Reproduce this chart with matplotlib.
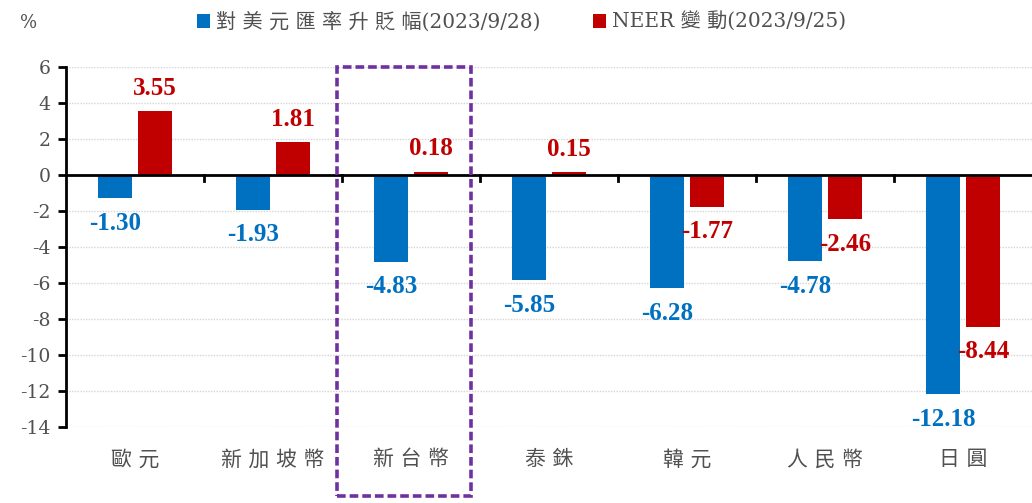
import numpy as np
import matplotlib.pyplot as plt
from matplotlib.patches import Rectangle

categories = ['歐元', '新加坡幣', '新台幣', '泰銖', '韓元', '人民幣', '日圓']
fx_change = [-1.30, -1.93, -4.83, -5.85, -6.28, -4.78, -12.18]
neer_change = [3.55, 1.81, 0.18, 0.15, -1.77, -2.46, -8.44]
series_names = ['對美元匯率升貶幅(2023/9/28)', 'NEER 變動(2023/9/25)']
yticks = [6, 4, 2, 0, -2, -4, -6, -8, -10, -12, -14]

blue = '#0070C0'
red = '#C00000'
purple = '#7030A0'
gray = '#505050'
mixed = ['DejaVu Serif', 'Noto Sans CJK TC']
num_font = 'Liberation Serif'


def spaced(s):
    # put a space between CJK characters, like the wide spacing of the original
    out = ''
    for i, ch in enumerate(s):
        out += ch
        if i + 1 < len(s) and ord(ch) > 0x2E80 and ord(s[i + 1]) > 0x2E80:
            out += ' '
    return out


fig = plt.figure(figsize=(10.32, 5.03), dpi=100)
ax = fig.add_axes([0.064, 0.151, 0.936, 0.716])

x = np.arange(len(categories))
w = 0.24
off = 0.145
b1 = ax.bar(x - off, fx_change, w, color=blue, zorder=3)
b2 = ax.bar(x + off, neer_change, w, color=red, zorder=3)

for xi, v in zip(x - off, fx_change):
    ax.annotate(f'{v:.2f}', (xi, v), xytext=(0, -25), textcoords='offset pixels',
                ha='center', va='center', color=blue, fontsize=18, fontweight='bold',
                family=num_font)
for xi, v in zip(x + off, neer_change):
    dy = 23 if v >= 0 else -25
    ax.annotate(f'{v:.2f}', (xi, v), xytext=(0, dy), textcoords='offset pixels',
                ha='center', va='center', color=red, fontsize=18, fontweight='bold',
                family=num_font)

ax.set_xlim(-0.5, len(categories) - 0.5)
ax.set_ylim(-14, 6)
ax.set_yticks(yticks)
ax.set_yticklabels([str(t) for t in yticks], family='DejaVu Serif', fontsize=13.5, color=gray)
ax.yaxis.grid(True, color='#D5D5D5', linestyle=(0, (1, 1)), linewidth=1)
ax.set_axisbelow(True)

for s in ['top', 'right', 'bottom']:
    ax.spines[s].set_visible(False)
ax.spines['left'].set_linewidth(2)
ax.axhline(0, color='black', linewidth=2, zorder=4)
ax.tick_params(axis='y', direction='out', length=6, width=2, pad=5)

ax.set_xticks(x)
ax.set_xticklabels([])
ax.tick_params(axis='x', length=0)
for xi in np.arange(0.5, len(categories) - 0.5, 1):
    ax.plot([xi, xi], [0, -0.35], color='black', linewidth=2, zorder=4, clip_on=False)
for xi, c in zip(x, categories):
    ax.text(xi, -15.8, spaced(c), ha='center', va='center',
            fontsize=15, color=gray, family=['DejaVu Sans', 'Noto Sans CJK TC'])

rect = Rectangle((1.46, -17.85), 0.975, 23.85, fill=False, edgecolor=purple,
                 linewidth=2.6, linestyle=(0, (2.4, 1.1)), zorder=5, clip_on=False)
ax.add_patch(rect)

fig.text(0.019, 0.955, '%', fontsize=13, family='DejaVu Serif', color=gray, va='center')

leg = fig.legend([b1, b2], [spaced(n) for n in series_names], loc='center',
                 bbox_to_anchor=(0.505, 0.956), ncol=2, frameon=False,
                 handlelength=0.65, handleheight=0.65, handletextpad=0.3,
                 columnspacing=2.6, prop={'family': mixed, 'size': 14.5})
for t in leg.get_texts():
    t.set_color(gray)

fig.savefig('out.png', dpi=100)
